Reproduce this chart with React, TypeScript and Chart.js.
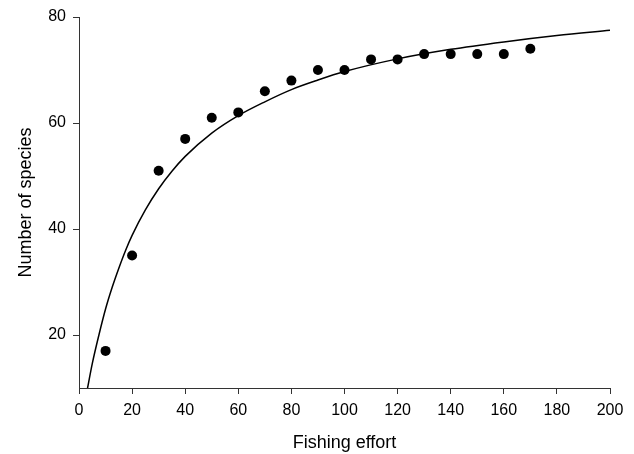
import React, { useEffect, useRef } from "react";
import { Chart, registerables } from "chart.js";

Chart.register(...registerables);

// Observed data points
const effort = [10, 20, 30, 40, 50, 60, 70, 80, 90, 100, 110, 120, 130, 140, 150, 160, 170];
const species = [17, 35, 51, 57, 61, 62, 66, 68, 70, 70, 72, 72, 73, 73, 73, 73, 74];

// Fitted curve
const curveEffort = [3, 5, 7.5, 10, 12.5, 15, 17.5, 20, 25, 30, 35, 40, 50, 60, 70, 80, 90, 100, 120, 140, 160, 180, 200];
const curveSpecies = [9.4, 14.6, 20.0, 24.9, 29.0, 32.6, 35.9, 38.8, 43.6, 47.6, 50.9, 53.7, 58.1, 61.4, 64.0, 66.3, 68.1, 69.7, 72.1, 73.9, 75.3, 76.5, 77.5];

const xTicks = [0, 20, 40, 60, 80, 100, 120, 140, 160, 180, 200];
const yTicks = [20, 40, 60, 80];

const FONT = "'Liberation Sans', Arial, sans-serif";

export default function App() {
  const ref = useRef<HTMLCanvasElement>(null);

  useEffect(() => {
    if (!ref.current) return;
    const chart = new Chart(ref.current, {
      type: "scatter",
      data: {
        datasets: [
          {
            type: "line",
            data: curveEffort.map((x, i) => ({ x, y: curveSpecies[i] })),
            borderColor: "#000",
            borderWidth: 1.5,
            pointRadius: 0,
            cubicInterpolationMode: "monotone",
            fill: false,
          } as any,
          {
            type: "scatter",
            data: effort.map((x, i) => ({ x, y: species[i] })),
            backgroundColor: "#000",
            borderColor: "#000",
            borderWidth: 0,
            pointRadius: 5,
          } as any,
        ],
      },
      options: {
        responsive: false,
        animation: false,
        layout: { padding: { top: 17, right: 24, bottom: 0, left: 0 } },
        plugins: { legend: { display: false }, tooltip: { enabled: false } },
        scales: {
          x: {
            type: "linear",
            min: 0,
            max: 200,
            afterBuildTicks: (s: any) => {
              s.ticks = xTicks.map((v) => ({ value: v }));
            },
            afterFit: (s: any) => {
              s.height = 66;
            },
            grid: { drawOnChartArea: false, tickLength: 6, color: "#333", lineWidth: 1 },
            border: { color: "#333", width: 1 },
            ticks: {
              padding: 7,
              autoSkip: false,
              maxRotation: 0,
              color: "#000",
              font: { family: FONT, size: 16 },
            },
            title: {
              display: true,
              text: "Fishing effort",
              color: "#000",
              font: { family: FONT, size: 18 },
              padding: { top: 0, bottom: 0 },
            },
          },
          y: {
            type: "linear",
            min: 10,
            max: 80,
            afterBuildTicks: (s: any) => {
              s.ticks = yTicks.map((v) => ({ value: v }));
            },
            afterFit: (s: any) => {
              s.width = 79;
            },
            grid: { drawOnChartArea: false, tickLength: 6, color: "#333", lineWidth: 1 },
            border: { color: "#333", width: 1 },
            ticks: {
              padding: 7,
              color: "#000",
              font: { family: FONT, size: 16 },
            },
            title: {
              display: true,
              text: "Number of species",
              color: "#000",
              font: { family: FONT, size: 18 },
              padding: { top: 15, bottom: 0 },
            },
          },
        },
      } as any,
    });
    return () => chart.destroy();
  }, []);

  return (
    <div style={{ position: "fixed", left: 0, top: 0, width: 634, height: 454, background: "#fff" }}>
      <canvas ref={ref} width={634} height={454} style={{ display: "block" }} />
    </div>
  );
}
